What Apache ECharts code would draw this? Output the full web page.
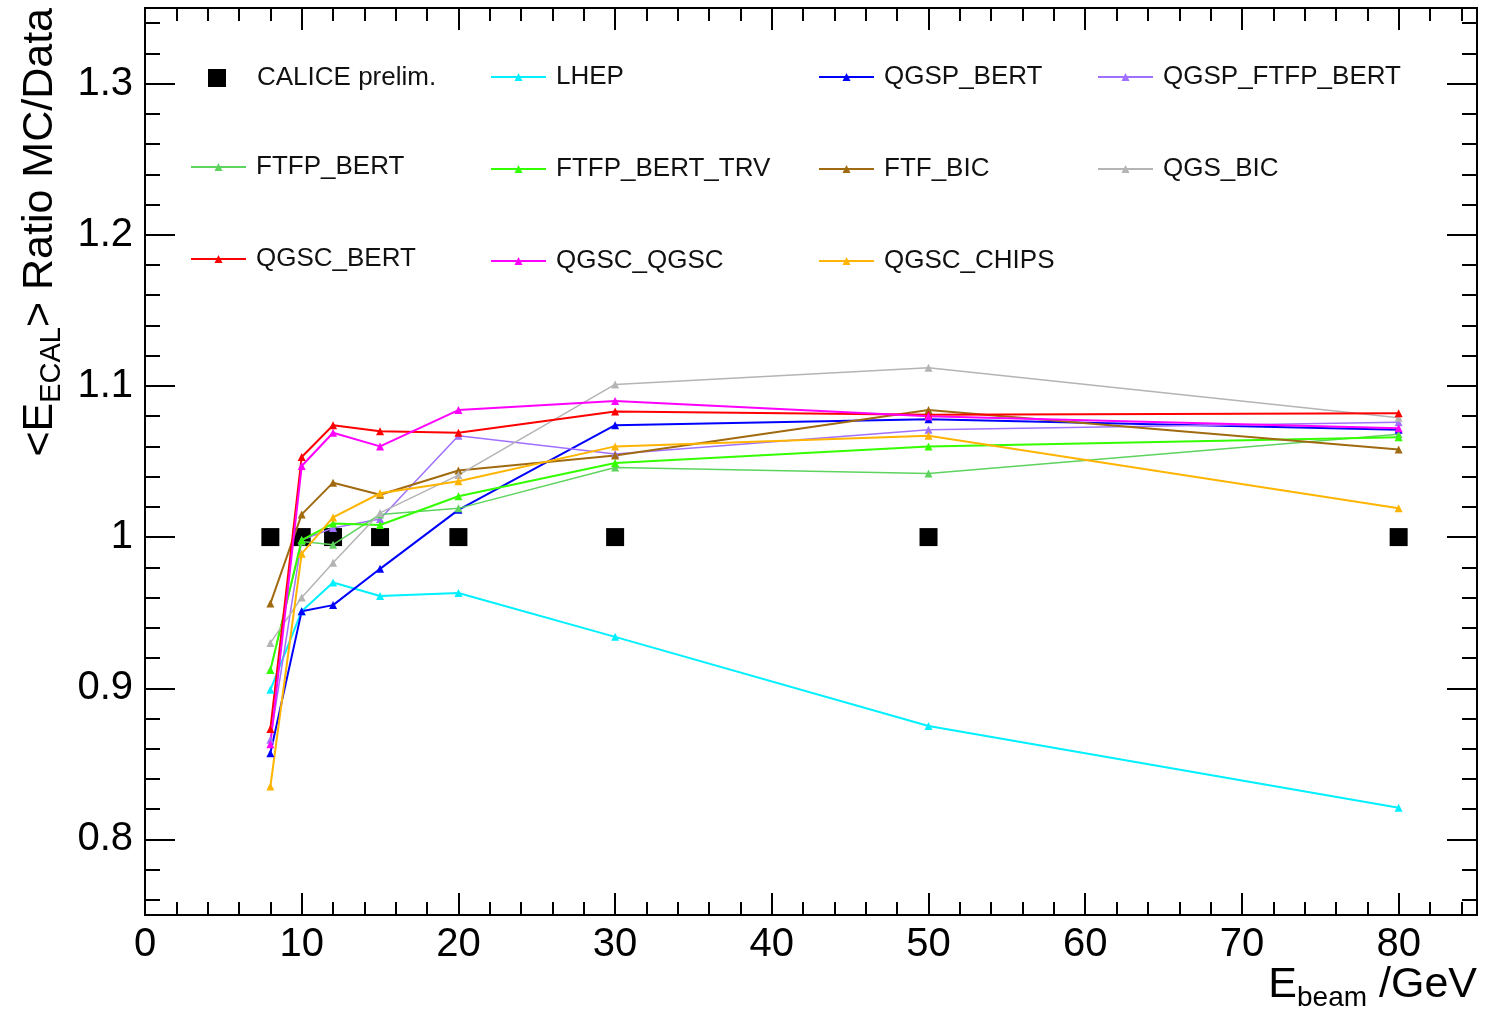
<!DOCTYPE html>
<html>
<head>
<meta charset="utf-8">
<title>ECAL ratio MC/Data</title>
<script src="https://cdn.jsdelivr.net/npm/echarts@6.0.0/dist/echarts.min.js"></script>
<style>
html, body { margin: 0; padding: 0; background: #fff; }
#chart { width: 1485px; height: 1009px; }
</style>
</head>
<body>
<div id="chart"></div>
<script>
// beam energies (GeV)
var energies = [8, 10, 12, 15, 20, 30, 50, 80];

// ratio MC / data
var calice       = [1, 1, 1, 1, 1, 1, 1, 1];
var lhep         = [0.899, 0.951, 0.970, 0.961, 0.963, 0.934, 0.875, 0.821];
var qgspBert     = [0.857, 0.951, 0.955, 0.979, 1.018, 1.074, 1.078, 1.071];
var qgspFtfpBert = [0.866, 0.998, 1.006, 1.012, 1.067, 1.055, 1.071, 1.076];
var ftfpBert     = [0.912, 0.997, 0.995, 1.015, 1.019, 1.046, 1.042, 1.068];
var ftfpBertTrv  = [0.912, 0.998, 1.009, 1.008, 1.027, 1.049, 1.060, 1.066];
var ftfBic       = [0.956, 1.015, 1.036, 1.028, 1.044, 1.054, 1.084, 1.058];
var qgsBic       = [0.930, 0.960, 0.983, 1.016, 1.041, 1.101, 1.112, 1.079];
var qgscBert     = [0.873, 1.053, 1.074, 1.070, 1.069, 1.083, 1.081, 1.082];
var qgscQgsc     = [0.863, 1.047, 1.069, 1.060, 1.084, 1.090, 1.080, 1.072];
var qgscChips    = [0.835, 0.989, 1.013, 1.029, 1.037, 1.060, 1.067, 1.019];

// y tick positions
var yMajor = [0.8, 0.9, 1, 1.1, 1.2, 1.3];
var yMinor = [];
for (var i = 38; i <= 67; i++) {
    var v = +(i * 0.02).toFixed(2);
    if (Math.abs(v * 10 - Math.round(v * 10)) > 1e-6) yMinor.push(v);
}

var FONT = '"Liberation Sans", Arial, Helvetica, sans-serif';

function pairs(ys) {
    return energies.map(function (x, i) { return [x, ys[i]]; });
}

function mcLine(name, ys, color, w) {
    return {
        name: name,
        type: 'line',
        data: pairs(ys),
        symbol: 'triangle',
        symbolSize: 8,
        lineStyle: { color: color, width: w || 2 },
        itemStyle: { color: color },
        animation: false
    };
}

function xAx(grid, pos, interval, len, labels) {
    return {
        gridIndex: grid,
        type: 'value', min: 0, max: 85, interval: interval, position: pos,
        axisLine: { show: false, onZero: false },
        splitLine: { show: false },
        axisTick: { inside: true, length: len, lineStyle: { color: '#000', width: 2 } },
        axisLabel: labels ? {
            fontSize: 40, color: '#000', fontFamily: FONT, margin: 10,
            formatter: function (v) { return (v % 10 === 0 && v <= 80) ? v : ''; }
        } : { show: false }
    };
}

function yAx(grid, pos, ticks, len, labels) {
    return {
        gridIndex: grid,
        type: 'value', min: 0.75, max: 1.35, position: pos,
        axisLine: { show: false, onZero: false },
        splitLine: { show: false },
        axisTick: { inside: true, length: len, customValues: ticks, lineStyle: { color: '#000', width: 2 } },
        axisLabel: labels ? {
            customValues: yMajor, fontSize: 40, color: '#000', fontFamily: FONT, margin: 12
        } : { show: false }
    };
}

var legendText = { fontSize: 26, color: '#111', fontFamily: FONT, lineHeight: 24, padding: [0, 0, 0, 5] };

function legendCol(left, top, names) {
    return {
        orient: 'vertical', left: left, top: top, data: names, padding: 0,
        itemWidth: 55, itemHeight: 10, itemGap: 66, selectedMode: false,
        textStyle: legendText
    };
}

var gridBox = { left: 145, right: 8, top: 8, bottom: 94 };

var chart = echarts.init(document.getElementById('chart'));
var option = {
    backgroundColor: '#fff',
    animation: false,
    grid: [
        Object.assign({ show: true, borderColor: '#000', borderWidth: 2 }, gridBox),
        Object.assign({ show: false }, gridBox)
    ],
    xAxis: [
        xAx(0, 'bottom', 10, 22, true), xAx(0, 'top', 10, 22, false),
        xAx(1, 'bottom', 2, 13, false), xAx(1, 'top', 2, 13, false)
    ],
    yAxis: [
        yAx(0, 'left', yMajor, 30, true), yAx(0, 'right', yMajor, 30, false),
        yAx(1, 'left', yMinor, 15, false), yAx(1, 'right', yMinor, 15, false)
    ],
    legend: [
        {
            left: 208, top: 65, padding: 0, data: ['CALICE prelim.'], itemWidth: 18, itemHeight: 18, selectedMode: false,
            textStyle: { fontSize: 26, color: '#111', fontFamily: FONT, lineHeight: 24, padding: [0, 0, 0, 26] }
        },
        legendCol(190, 154, ['FTFP_BERT', 'QGSC_BERT']),
        legendCol(490, 64, ['LHEP', 'FTFP_BERT_TRV', 'QGSC_QGSC']),
        legendCol(818, 64, ['QGSP_BERT', 'FTF_BIC', 'QGSC_CHIPS']),
        legendCol(1097, 64, ['QGSP_FTFP_BERT', 'QGS_BIC'])
    ],
    graphic: [
        {
            type: 'text', x: 40, y: 8, rotation: Math.PI / 2,
            style: {
                text: '{a|<E}{s|ECAL}{a|> Ratio MC/Data}',
                align: 'right', verticalAlign: 'middle', fill: '#000',
                rich: {
                    a: { fontSize: 43, fontFamily: FONT, fill: '#000' },
                    s: { fontSize: 29, fontFamily: FONT, fill: '#000', padding: [24, 0, 0, 0] }
                }
            }
        },
        {
            type: 'text', x: 1477, y: 985,
            style: {
                text: '{a|E}{s|beam}{a| /GeV}',
                align: 'right', verticalAlign: 'middle', fill: '#000',
                rich: {
                    a: { fontSize: 43, fontFamily: FONT, fill: '#000' },
                    s: { fontSize: 28, fontFamily: FONT, fill: '#000', padding: [26, 0, 0, 0] }
                }
            }
        }
    ],
    series: [
        {
            name: 'CALICE prelim.', type: 'scatter', data: pairs(calice),
            symbol: 'rect', symbolSize: 18, itemStyle: { color: '#000', opacity: 1 }
        },
        mcLine('LHEP', lhep, '#00f0ff'),
        mcLine('QGSP_BERT', qgspBert, '#0000ff'),
        mcLine('QGSP_FTFP_BERT', qgspFtfpBert, '#a070ff', 1.5),
        mcLine('FTFP_BERT', ftfpBert, '#5ed35e', 1.5),
        mcLine('FTFP_BERT_TRV', ftfpBertTrv, '#33ff00'),
        mcLine('FTF_BIC', ftfBic, '#a06a10'),
        mcLine('QGS_BIC', qgsBic, '#b4b4b4', 1.5),
        mcLine('QGSC_BERT', qgscBert, '#ff0000'),
        mcLine('QGSC_QGSC', qgscQgsc, '#ff00ff'),
        mcLine('QGSC_CHIPS', qgscChips, '#ffb400')
    ]
};
chart.setOption(option);

window.addEventListener('resize', function () {
    if (chart != null) chart.resize();
});
</script>
</body>
</html>
